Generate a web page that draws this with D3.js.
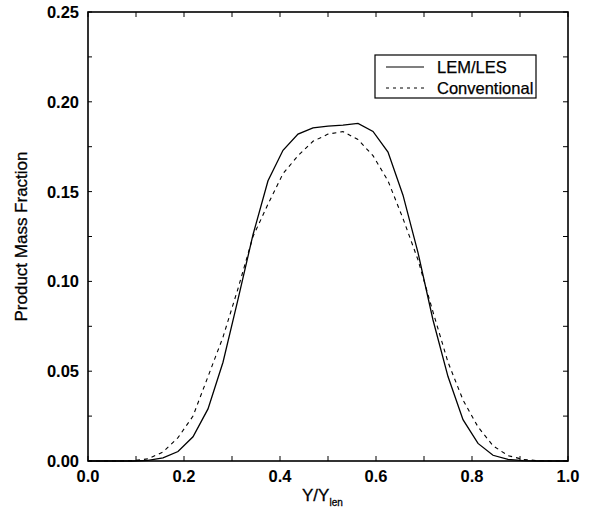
<!DOCTYPE html>
<html><head><meta charset="utf-8">
<script src="https://cdn.jsdelivr.net/npm/d3@7"></script>
<style>body{margin:0;background:#fff;} text{font-family:"Liberation Sans",Arial,sans-serif;fill:#000;}</style>
</head><body><svg id="c" width="590" height="514"></svg>
<script>
// x positions (Y/Ylen) on a uniform grid of 33 points
const xVals = [0,0.03125,0.0625,0.09375,0.125,0.15625,0.1875,0.21875,0.25,0.28125,0.3125,0.34375,0.375,0.40625,0.4375,0.46875,0.5,0.53125,0.5625,0.59375,0.625,0.65625,0.6875,0.71875,0.75,0.78125,0.8125,0.84375,0.875,0.90625,0.9375,0.96875,1.0];
const lemLes = [0,0,0,0,0.0003,0.0017,0.0053,0.0135,0.029,0.055,0.090,0.126,0.156,0.173,0.182,0.1855,0.1865,0.187,0.188,0.1835,0.172,0.148,0.116,0.0785,0.047,0.023,0.0098,0.0032,0.0009,0.0002,0,0,0];
const conventional = [0,0,0,0.0002,0.0012,0.005,0.013,0.025,0.047,0.069,0.096,0.125,0.143,0.160,0.170,0.178,0.182,0.1834,0.179,0.170,0.156,0.135,0.112,0.083,0.055,0.034,0.019,0.0085,0.003,0.0009,0.0002,0,0];
const xTicks = [0,0.2,0.4,0.6,0.8,1.0];
const yTicks = [0,0.05,0.10,0.15,0.20,0.25];
const seriesNames = ["LEM/LES","Conventional"];

const svg = d3.select("#c");
const L=88,R=568,T=12,B=461;
const x = d3.scaleLinear().domain([0,1]).range([L,R]);
const y = d3.scaleLinear().domain([0,0.25]).range([B,T]);
const fmtX = d3.format(".1f"), fmtY = d3.format(".2f");

// inward ticks
const g = svg.append("g");
const minorX = d3.range(0,1.0001,0.1);
const minorY = d3.range(0,0.25001,0.025);
g.selectAll(".tb").data(minorX).join("line").attr("x1",d=>x(d)).attr("x2",d=>x(d)).attr("y1",B).attr("y2",B-5).attr("stroke","#000").attr("stroke-width",1);
g.selectAll(".tt").data(minorX).join("line").attr("x1",d=>x(d)).attr("x2",d=>x(d)).attr("y1",T).attr("y2",T+5).attr("stroke","#000").attr("stroke-width",1);
g.selectAll(".tl").data(minorY).join("line").attr("x1",L).attr("x2",L+4).attr("y1",d=>y(d)).attr("y2",d=>y(d)).attr("stroke","#000").attr("stroke-width",1);
g.selectAll(".tr").data(minorY).join("line").attr("x1",R).attr("x2",R-5).attr("y1",d=>y(d)).attr("y2",d=>y(d)).attr("stroke","#000").attr("stroke-width",1);

// frame
svg.append("rect").attr("x",L).attr("y",T).attr("width",R-L).attr("height",B-T).attr("fill","none").attr("stroke","#000").attr("stroke-width",1.6);

// tick labels
svg.selectAll(".xl").data(xTicks).join("text").attr("x",d=>x(d)).attr("y",B+21).attr("text-anchor","middle").attr("font-size",16.5).attr("font-weight","bold").text(d=>fmtX(d));
svg.selectAll(".yl").data(yTicks).join("text").attr("x",L-9).attr("y",d=>y(d)+6).attr("text-anchor","end").attr("font-size",16.5).attr("font-weight","bold").text(d=>fmtY(d));

// axis titles
const xt = svg.append("text").attr("x",302).attr("y",501).attr("text-anchor","start").attr("font-size",17).attr("stroke","#000").attr("stroke-width",0.3);
xt.append("tspan").text("Y/Y");
xt.append("tspan").attr("font-size",10).attr("dy",5).text("len");
svg.append("text").attr("transform",`translate(27,${(T+B)/2}) rotate(-90)`).attr("text-anchor","middle").attr("font-size",17).attr("stroke","#000").attr("stroke-width",0.3).text("Product Mass Fraction");

// lines
const line = d3.line().x((d,i)=>x(xVals[i])).y(d=>y(d));
svg.append("path").datum(lemLes).attr("d",line).attr("fill","none").attr("stroke","#000").attr("stroke-width",1.3);
svg.append("path").datum(conventional).attr("d",line).attr("fill","none").attr("stroke","#000").attr("stroke-width",1.1).attr("stroke-dasharray","4,4");

// legend
const lg = svg.append("g");
lg.append("rect").attr("x",375).attr("y",55).attr("width",161).attr("height",43).attr("fill","#fff").attr("stroke","#000").attr("stroke-width",1.2);
lg.append("line").attr("x1",386).attr("x2",424).attr("y1",67).attr("y2",67).attr("stroke","#000").attr("stroke-width",1.2);
lg.append("line").attr("x1",386).attr("x2",424).attr("y1",88).attr("y2",88).attr("stroke","#000").attr("stroke-width",1).attr("stroke-dasharray","3,4");
lg.append("text").attr("x",437).attr("y",73).attr("font-size",16.5).attr("stroke","#000").attr("stroke-width",0.25).text(seriesNames[0]);
lg.append("text").attr("x",437).attr("y",94).attr("font-size",16.5).attr("stroke","#000").attr("stroke-width",0.25).text(seriesNames[1]);
</script></body></html>
